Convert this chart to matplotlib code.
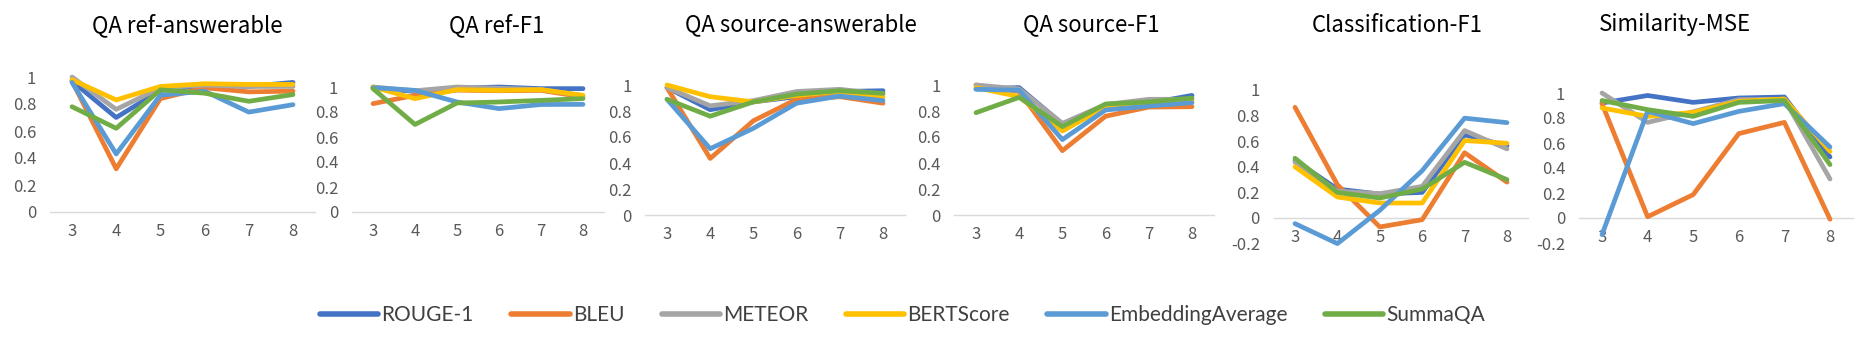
import numpy as np
import matplotlib
matplotlib.use("Agg")
import matplotlib.pyplot as plt
from matplotlib.lines import Line2D
from matplotlib.ticker import FuncFormatter

plt.rcParams['font.family'] = ['Noto Sans CJK SC', 'DejaVu Sans']

# number of ... (x categories)
x_vals = [3, 4, 5, 6, 7, 8]
metrics = ["ROUGE-1", "BLEU", "METEOR", "BERTScore", "EmbeddingAverage", "SummaQA"]
colors = ["#4472C4", "#ED7D31", "#A5A5A5", "#FFC000", "#5B9BD5", "#70AD47"]

titles = ["QA ref-answerable", "QA ref-F1", "QA source-answerable",
          "QA source-F1", "Classification-F1", "Similarity-MSE"]

# one list per metric, in the order of `metrics`
qa_ref_ans = [
    [0.97, 0.70, 0.90, 0.94, 0.93, 0.96],
    [0.97, 0.32, 0.84, 0.92, 0.89, 0.895],
    [1.00, 0.76, 0.92, 0.94, 0.93, 0.93],
    [0.98, 0.83, 0.93, 0.95, 0.945, 0.945],
    [0.96, 0.43, 0.865, 0.895, 0.74, 0.795],
    [0.78, 0.62, 0.905, 0.88, 0.82, 0.87],
]
qa_ref_f1 = [
    [0.99, 0.965, 0.99, 1.00, 0.987, 0.987],
    [0.867, 0.933, 0.975, 0.97, 0.973, 0.92],
    [1.00, 0.97, 1.00, 0.99, 0.98, 0.93],
    [1.00, 0.907, 0.979, 0.973, 0.979, 0.933],
    [0.995, 0.973, 0.88, 0.827, 0.86, 0.861],
    [0.987, 0.70, 0.872, 0.88, 0.893, 0.907],
]
qa_src_ans = [
    [0.98, 0.81, 0.87, 0.91, 0.95, 0.956],
    [0.98, 0.435, 0.725, 0.89, 0.91, 0.86],
    [0.98, 0.84, 0.88, 0.95, 0.967, 0.93],
    [1.00, 0.91, 0.87, 0.92, 0.95, 0.905],
    [0.89, 0.51, 0.667, 0.86, 0.915, 0.88],
    [0.89, 0.76, 0.87, 0.93, 0.956, 0.936],
]
qa_src_f1 = [
    [0.97, 0.98, 0.70, 0.82, 0.86, 0.92],
    [1.00, 0.95, 0.495, 0.76, 0.83, 0.833],
    [1.00, 0.97, 0.705, 0.85, 0.89, 0.89],
    [0.98, 0.91, 0.646, 0.833, 0.86, 0.88],
    [0.967, 0.96, 0.58, 0.808, 0.838, 0.864],
    [0.787, 0.905, 0.68, 0.854, 0.87, 0.90],
]
cls_f1 = [
    [0.45, 0.226, 0.187, 0.20, 0.65, 0.564],
    [0.865, 0.26, -0.07, -0.013, 0.51, 0.28],
    [0.436, 0.21, 0.19, 0.247, 0.683, 0.54],
    [0.40, 0.164, 0.117, 0.117, 0.605, 0.584],
    [-0.044, -0.20, 0.06, 0.37, 0.78, 0.745],
    [0.467, 0.20, 0.156, 0.226, 0.435, 0.30],
]
sim_mse = [
    [0.92, 0.98, 0.925, 0.96, 0.968, 0.488],
    [0.915, 0.01, 0.187, 0.675, 0.765, -0.01],
    [1.00, 0.765, 0.85, 0.947, 0.95, 0.312],
    [0.88, 0.813, 0.845, 0.933, 0.952, 0.533],
    [-0.133, 0.853, 0.755, 0.853, 0.915, 0.568],
    [0.94, 0.867, 0.813, 0.925, 0.94, 0.427],
]
panels = [qa_ref_ans, qa_ref_f1, qa_src_ans, qa_src_f1, cls_f1, sim_mse]

# layout in pixels of the 1864x340 canvas: (x of cat 3, x of cat 8, y of 0, y of 1, ymin)
W, H = 1864, 340
boxes = [
    (72, 293, 212, 77, 0.0),
    (373, 583, 212, 87, 0.0),
    (667, 883, 215, 85, 0.0),
    (976, 1192, 215, 85, 0.0),
    (1295, 1507, 218, 90, -0.2),
    (1602, 1830, 218, 93, -0.2),
]
title_x = [187, 497, 801, 1091, 1397, 1675]

fig = plt.figure(figsize=(W / 100, H / 100), dpi=100)
fmt = FuncFormatter(lambda v, p: "{:g}".format(round(v, 1)))

for i, data in enumerate(panels):
    x3, x8, y0, y1, ymin = boxes[i]
    step = (x8 - x3) / 5.0
    left = x3 - step / 2
    right = x8 + step / 2
    unit = y0 - y1
    bottom = y0 - ymin * unit
    ax = fig.add_axes([left / W, 1 - bottom / H, (right - left) / W, (bottom - y1) / H])
    for j, vals in enumerate(data):
        ax.plot(x_vals, vals, color=colors[j], lw=3.4, solid_capstyle='round',
                solid_joinstyle='round', clip_on=False)
    ax.set_xlim(2.5, 8.5)
    ax.set_ylim(ymin, 1.0)
    ax.set_yticks(np.arange(ymin, 1.01, 0.2))
    ax.yaxis.set_major_formatter(fmt)
    ax.set_xticks(x_vals)
    for s in ['top', 'right', 'left']:
        ax.spines[s].set_visible(False)
    ax.spines['bottom'].set_position(('data', 0))
    ax.spines['bottom'].set_color('#D9D9D9')
    ax.spines['bottom'].set_linewidth(1.0)
    ax.spines['bottom'].set_zorder(0)
    ax.tick_params(length=0, labelsize=12, colors='#595959', pad=8)
    ax.tick_params(axis='y', pad=10)
    fig.text(title_x[i] / W, 1 - 25 / H, titles[i], ha='center', va='center',
             fontsize=16, color='#000000')

handles = [Line2D([], [], color=c, lw=4, solid_capstyle='round') for c in colors]
fig.legend(handles, metrics, loc='center left', bbox_to_anchor=(320 / W, 1 - 315 / H),
           ncol=6, frameon=False, borderpad=0, borderaxespad=0, handlelength=2.8,
           handletextpad=0.15, columnspacing=1.8,
           prop={'family': ['Lato', 'DejaVu Sans'], 'size': 15}, labelcolor='#404040')

fig.savefig("out.png", dpi=100)
